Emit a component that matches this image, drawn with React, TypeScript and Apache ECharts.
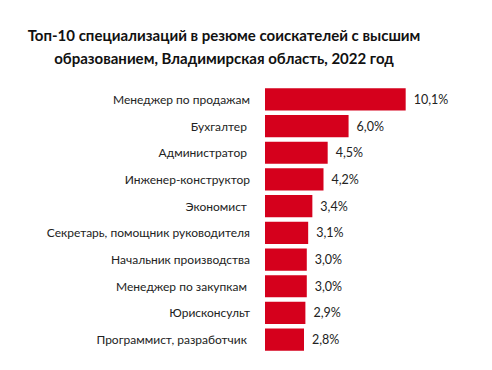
import React, { useEffect, useRef } from "react";
import * as echarts from "echarts";

const titleLines = [
  "Топ-10 специализаций в резюме соискателей с высшим",
  "образованием, Владимирская область, 2022 год",
];

const categories = [
  "Менеджер по продажам",
  "Бухгалтер ",
  "Администратор ",
  "Инженер-конструктор",
  "Экономист ",
  "Секретарь, помощник руководителя",
  "Начальник производства",
  "Менеджер по закупкам ",
  "Юрисконсульт",
  "Программист, разработчик ",
];

const values = [10.1, 6.0, 4.5, 4.2, 3.4, 3.1, 3.0, 3.0, 2.9, 2.8];

const FONT = "Lato, Roboto, sans-serif";

export default function App() {
  const ref = useRef<HTMLDivElement>(null);
  useEffect(() => {
    if (!ref.current) return;
    const chart = echarts.init(ref.current, undefined, { renderer: "svg" });
    chart.setOption({
      animation: false,
      backgroundColor: "#ffffff",
      graphic: [
        {
          type: "text",
          x: 224,
          y: 23,
          style: {
            text: titleLines.join("\n"),
            textAlign: "center",
            textVerticalAlign: "top",
            font: `bold 15px ${FONT}`,
            lineHeight: 23,
            fill: "#111111",
          },
        },
      ],
      grid: { left: 265, top: 86, bottom: 17, right: 32, containLabel: false },
      xAxis: {
        type: "value",
        min: 0,
        max: 14,
        show: false,
      },
      yAxis: {
        type: "category",
        data: categories,
        inverse: true,
        axisLine: { show: false },
        axisTick: { show: false },
        splitLine: { show: false },
        axisLabel: {
          margin: 15,
          fontSize: 12,
          fontFamily: FONT,
          color: "#222222",
        },
      },
      series: [
        {
          type: "bar",
          data: values,
          barCategoryGap: "17%",
          itemStyle: { color: "#D5001C" },
          label: {
            show: true,
            position: "right",
            distance: 8,
            fontSize: 12.5,
            fontFamily: FONT,
            color: "#222222",
            formatter: (p: any) => p.value.toFixed(1).replace(".", ",") + "%",
          },
        },
      ],
    });
    return () => chart.dispose();
  }, []);
  return <div ref={ref} style={{ width: 492, height: 370, position: "absolute", left: 0, top: 0 }} />;
}
